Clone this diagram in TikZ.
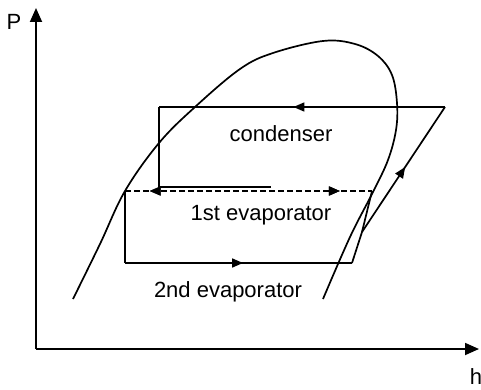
\documentclass[tikz,border=0pt]{standalone}
\usepackage{fontspec}
\setmainfont{Liberation Sans}
\usetikzlibrary{arrows.meta,decorations.markings}
\begin{document}
\begin{tikzpicture}[x=1pt,y=-1pt,
  line/.style={line width=1.7pt},
  axis/.style={line width=1.8pt,-{Triangle[length=14pt,width=12pt]}},
  fwdarrow/.style={postaction={decorate},decoration={markings,mark=at position #1 with {\arrow{Triangle[length=11pt,width=9pt]}}}},
  revarrow/.style={postaction={decorate},decoration={markings,mark=at position #1 with {\arrowreversed{Triangle[length=11pt,width=9pt]}}}},
  lbl/.style={font=\fontsize{22}{26}\selectfont, inner sep=0pt}
]
\useasboundingbox (0,0) rectangle (481,390);

% coordinates
\coordinate (o) at (36,349);
\coordinate (ptop) at (36,8);
\coordinate (hend) at (479,349);
\coordinate (ct) at (445,107);
\coordinate (cl) at (159,107);
\coordinate (cb) at (159,187);
\coordinate (cbr) at (271,187);
\coordinate (e1l) at (125,191);
\coordinate (e1r) at (372,191);
\coordinate (e2l) at (125,263);
\coordinate (e2r) at (352,263);
\coordinate (cm) at (362,232);

% axes
\draw[axis] (o) -- (ptop);
\draw[axis] (o) -- (hend);
\node[lbl] (P) at (14,22) {P};
\node[lbl] (h) at (476,377) {h};

% saturation dome
\draw[line] plot[smooth, tension=0.6] coordinates {(73,299) (100,244) (125,191) (159,143) (195,107) (240,69) (273,53) (323,41) (355,44) (378,56) (392,75) (397,103) (396,130) (388,160) (373,192) (350,237) (323,299)};

% cycle
\draw[line] (e2r) -- (cm);
\draw[line,fwdarrow=0.52] (cm) -- (ct);
\draw[line,fwdarrow=0.53] (ct) -- (cl);
\draw[line] (cl) -- (cb) -- (cbr);
\draw[line,dashed,dash pattern=on 6pt off 3pt,fwdarrow=0.87,revarrow=0.1] (e1l) -- (e1r);
\draw[line] (e1l) -- (e2l);
\draw[line,fwdarrow=0.52] (e2l) -- (e2r);
\draw[line] (e1r) -- (cm);

% labels
\node[lbl] (cond) at (281,134) {condenser};
\node[lbl] (evap1) at (261,215) {1st evaporator};
\node[lbl] (evap2) at (228,292) {2nd evaporator};
\end{tikzpicture}
\end{document}
